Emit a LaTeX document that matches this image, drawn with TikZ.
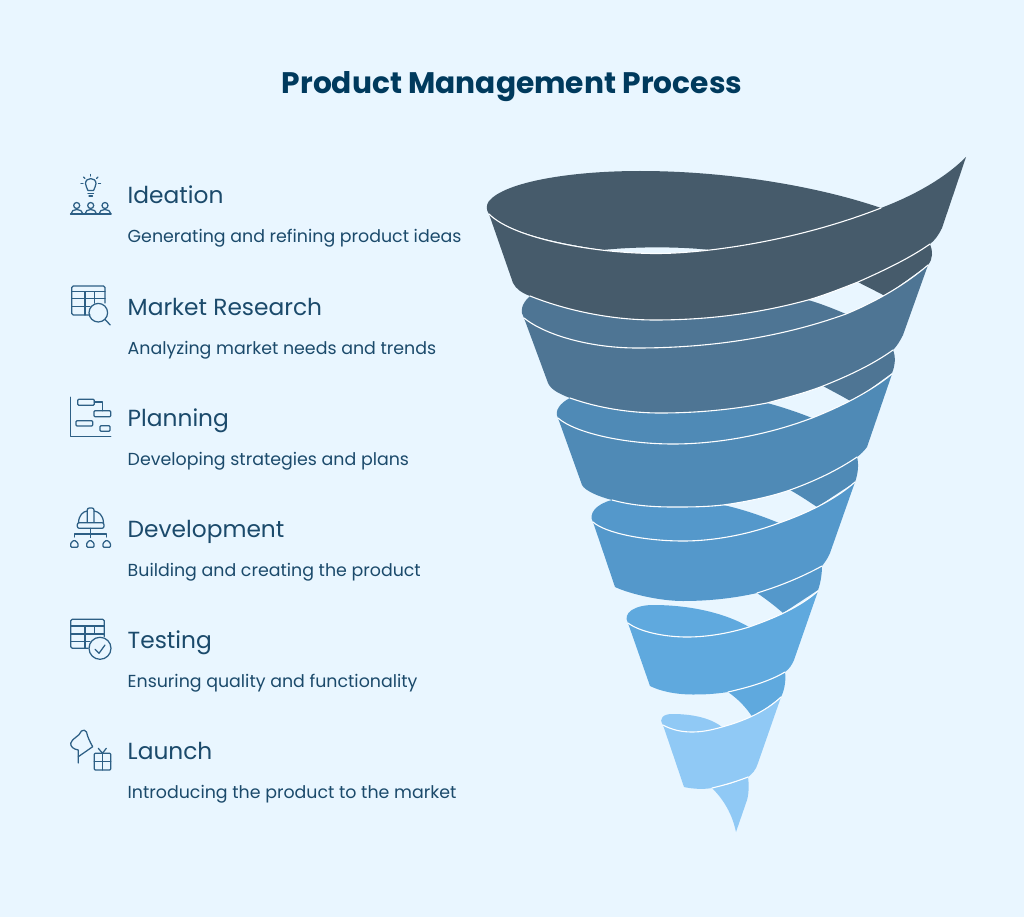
\documentclass[tikz,border=0pt]{standalone}
\usepackage{fontspec}
\setmainfont{Poppins}
\definecolor{pagebg}{HTML}{E9F6FF}
\definecolor{titleink}{HTML}{003A5D}
\definecolor{labelink}{HTML}{1B4A6B}
\definecolor{iconink}{HTML}{2D5F85}
\definecolor{bandA}{HTML}{465B6B}
\definecolor{bandB}{HTML}{4E7594}
\definecolor{bandC}{HTML}{4F8AB6}
\definecolor{bandD}{HTML}{5498CB}
\definecolor{bandE}{HTML}{5FA9DE}
\definecolor{bandF}{HTML}{90C9F5}
\tikzset{
	seam/.style={color=white!92!pagebg, line width=1.1pt, line cap=round},
	icon/.style={color=iconink, line width=1.25pt, line cap=round, line join=round},
	steptitle/.style={anchor=base west, inner sep=0pt, text=labelink, font=\fontsize{23.3}{26}\selectfont},
	stepnote/.style={anchor=base west, inner sep=0pt, text=labelink, font=\fontsize{17.4}{20}\selectfont}
}
\begin{document}
\begin{tikzpicture}[x=1pt, y=-1pt]
		%%%%% START %%%%%
		\fill[pagebg] (0, 0) rectangle (1024, 917);
		\node[anchor=base, inner sep=0pt, text=titleink, font=\bfseries\fontsize{29.7}{32}\selectfont] (title) at (512, 94) {Product Management Process};
		
		\node[steptitle] (ideation) at (127.5, 204) {Ideation};
		\node[stepnote] (ideationnote) at (127.5, 243) {Generating and refining product ideas};
		\node[steptitle] (research) at (127.5, 315) {Market Research};
		\node[stepnote] (researchnote) at (127.5, 354) {Analyzing market needs and trends};
		\node[steptitle] (planning) at (127.5, 426) {Planning};
		\node[stepnote] (planningnote) at (127.5, 465) {Developing strategies and plans};
		\node[steptitle] (development) at (127.5, 537) {Development};
		\node[stepnote] (developmentnote) at (127.5, 576) {Building and creating the product};
		\node[steptitle] (testing) at (127.5, 648) {Testing};
		\node[stepnote] (testingnote) at (127.5, 687) {Ensuring quality and functionality};
		\node[steptitle] (launch) at (127.5, 759) {Launch};
		\node[stepnote] (launchnote) at (127.5, 798) {Introducing the product to the market};
		
		% lobes and tails
		\fill[bandA] (489, 214) .. controls (486, 210) and (486, 205) .. (489, 201) .. controls (505, 182) and (570, 171) .. (640, 171) .. controls (730, 171) and (820, 187) .. (881, 208) .. controls (830, 228) and (770, 243) .. (710, 250) .. controls (680, 246.5) and (635, 246.5) .. (603, 250) .. controls (570, 245) and (510, 235) .. cycle;
		\fill[bandA] (930, 244) .. controls (933, 251) and (933, 259) .. (928, 265) -- (885, 296) .. controls (876, 291) and (867, 287) .. (858, 282) -- (900, 255) -- cycle;
		
		\fill[bandB] (524, 318) .. controls (520, 312) and (521, 304) .. (530, 296) -- (640, 310) -- (808, 300) .. controls (822, 304) and (834, 309) .. (846, 314) -- (846, 360) -- (550, 360) -- cycle;
		\fill[bandB] (893, 350) .. controls (896, 357) and (895, 366) .. (892, 373) -- (852, 402) .. controls (842, 396) and (832, 391) .. (823, 386) -- (860, 365) -- cycle;
		
		\fill[bandC] (558, 418) .. controls (554, 411) and (560, 403) .. (570, 398) -- (660, 405) -- (767, 403) .. controls (782, 407) and (797, 412) .. (812, 418) -- (812, 455) -- (590, 455) -- cycle;
		\fill[bandC] (857, 457) .. controls (859, 464) and (858, 474) .. (855, 482) -- (817, 507) .. controls (808, 501) and (799, 495) .. (790, 490) -- (825, 472) -- cycle;
		
		\fill[bandD] (593, 522) .. controls (588, 514) and (596, 504) .. (612, 500) -- (660, 495) -- (723, 505) .. controls (742, 509) and (762, 516) .. (779, 523) -- (779, 550) -- (610, 550) -- cycle;
		\fill[bandD] (822, 566) .. controls (822, 572) and (821, 582) .. (818, 590) -- (783, 613) .. controls (775, 606) and (766, 599) .. (757, 593) -- (790, 580) -- cycle;
		
		\fill[bandE] (628, 623) .. controls (622, 613) and (635, 605) .. (653, 605) .. controls (690, 605) and (725, 613) .. (749, 627) -- (749, 645) -- (645, 645) -- cycle;
		\fill[bandE] (785, 672) .. controls (786, 679) and (785, 689) .. (781, 697) -- (753, 718) .. controls (746, 707) and (738, 699) .. (728, 692) -- (755, 683) -- cycle;
		
		\fill[bandF] (663, 725) .. controls (658, 718) and (664, 714) .. (672, 714) .. controls (695, 714) and (712, 719) .. (722, 727) -- (722, 740) -- (670, 740) -- cycle;
		\fill[bandF] (748, 777) .. controls (749, 784) and (749, 793) .. (747, 800) -- (736, 832) .. controls (732, 813) and (723, 799) .. (712, 788) -- (730, 784) -- cycle;
		
		% fronts
		\fill[bandA] (489, 214) .. controls (515, 240) and (600, 253.5) .. (656, 253.5) .. controls (675, 253.5) and (692, 252) .. (710, 250) .. controls (770, 243) and (830, 228) .. (881, 208) .. controls (915, 195) and (945, 178) .. (966, 157) -- (942, 228) .. controls (938, 236) and (935, 240) .. (930, 244) .. controls (910, 258) and (885, 270) .. (858, 282) .. controls (840, 289) and (825, 295) .. (808, 300) .. controls (760, 313) and (710, 320) .. (655, 320) .. controls (610, 320) and (565, 310) .. (530, 296) .. controls (522, 293) and (516, 289) .. (513, 283) -- cycle;
		\draw[seam] (489, 214) .. controls (515, 240) and (600, 253.5) .. (656, 253.5) .. controls (675, 253.5) and (692, 252) .. (710, 250) .. controls (770, 243) and (830, 228) .. (881, 208);
		\draw[seam] (930, 244) .. controls (910, 258) and (885, 270) .. (858, 282) .. controls (840, 289) and (825, 295) .. (808, 300) .. controls (760, 313) and (710, 320) .. (655, 320) .. controls (610, 320) and (565, 310) .. (530, 296);
		
		\fill[bandB] (524, 318) .. controls (545, 335) and (590, 348) .. (637, 348) .. controls (715, 348) and (785, 336) .. (846, 314) .. controls (875, 302) and (905, 285) .. (928, 265) -- (903, 335) .. controls (900, 341) and (897, 346) .. (893, 350) .. controls (872, 365) and (848, 376) .. (823, 386) .. controls (805, 393) and (785, 398) .. (767, 403) .. controls (730, 410) and (695, 413) .. (660, 413) .. controls (630, 413) and (598, 408) .. (570, 398) .. controls (560, 394) and (551, 390) .. (548, 383) -- cycle;
		\draw[seam] (524, 318) .. controls (545, 335) and (590, 348) .. (637, 348) .. controls (715, 348) and (785, 336) .. (846, 314) .. controls (875, 302) and (905, 285) .. (928, 265);
		\draw[seam] (893, 350) .. controls (872, 365) and (848, 376) .. (823, 386) .. controls (805, 393) and (785, 398) .. (767, 403) .. controls (730, 410) and (695, 413) .. (660, 413) .. controls (630, 413) and (598, 408) .. (570, 398);
		
		\fill[bandC] (558, 418) .. controls (575, 433) and (625, 444) .. (673, 444) .. controls (720, 444) and (770, 434) .. (812, 418) .. controls (840, 407) and (870, 392) .. (892, 374) -- (867, 447) .. controls (864, 451) and (861, 454) .. (857, 457) .. controls (838, 470) and (815, 481) .. (790, 490) .. controls (770, 497) and (745, 502) .. (723, 505) .. controls (705, 507) and (690, 507) .. (673, 507) .. controls (650, 507) and (630, 505) .. (612, 500) .. controls (600, 497) and (585, 491) .. (582, 485) -- cycle;
		\draw[seam] (558, 418) .. controls (575, 433) and (625, 444) .. (673, 444) .. controls (720, 444) and (770, 434) .. (812, 418) .. controls (840, 407) and (870, 392) .. (892, 374);
		\draw[seam] (857, 457) .. controls (838, 470) and (815, 481) .. (790, 490) .. controls (770, 497) and (745, 502) .. (723, 505) .. controls (705, 507) and (690, 507) .. (673, 507) .. controls (650, 507) and (630, 505) .. (612, 500);
		
		\fill[bandD] (593, 522) .. controls (605, 533) and (645, 541) .. (683, 541) .. controls (715, 541) and (750, 534) .. (779, 523) .. controls (805, 514) and (835, 500) .. (855, 482) -- (830, 553) .. controls (828, 558) and (825, 562) .. (822, 566) .. controls (802, 577) and (780, 586) .. (757, 593) .. controls (735, 598) and (710, 601) .. (683, 601) .. controls (660, 601) and (630, 594) .. (615, 587) -- cycle;
		\draw[seam] (593, 522) .. controls (605, 533) and (645, 541) .. (683, 541) .. controls (715, 541) and (750, 534) .. (779, 523) .. controls (805, 514) and (835, 500) .. (855, 482);
		\draw[seam] (822, 566) .. controls (802, 577) and (780, 586) .. (757, 593);
		
		\fill[bandE] (628, 623) .. controls (640, 632) and (665, 637) .. (687, 637) .. controls (708, 637) and (730, 633) .. (749, 627) .. controls (775, 618) and (800, 607) .. (818, 591) -- (794, 660) .. controls (792, 665) and (789, 669) .. (785, 672) .. controls (770, 681) and (750, 687) .. (728, 692) .. controls (715, 694) and (705, 694.5) .. (693, 694.5) .. controls (675, 694.5) and (660, 691) .. (650, 686) -- cycle;
		\draw[seam] (628, 623) .. controls (640, 632) and (665, 637) .. (687, 637) .. controls (708, 637) and (730, 633) .. (749, 627) .. controls (775, 618) and (800, 607) .. (818, 591);
		\draw[seam] (785, 672) .. controls (770, 681) and (750, 687) .. (728, 692);
		
		\fill[bandF] (663, 725) .. controls (672, 730) and (682, 732) .. (692, 732) .. controls (702, 732) and (712, 730) .. (722, 727) .. controls (744, 721) and (765, 712) .. (781, 697) -- (758, 763) .. controls (756, 770) and (752, 774) .. (748, 777) .. controls (738, 781) and (725, 785) .. (712, 788) .. controls (703, 789.5) and (693, 789) .. (684, 787) -- cycle;
		\draw[seam] (663, 725) .. controls (672, 730) and (682, 732) .. (692, 732) .. controls (702, 732) and (712, 730) .. (722, 727) .. controls (744, 721) and (765, 712) .. (781, 697);
		\draw[seam] (748, 777) .. controls (738, 781) and (725, 785) .. (712, 788);
		
		% ideation icon
		\draw[icon] (88, 190.5) .. controls (87.5, 188) and (85.5, 187) .. (85.5, 183.5) .. controls (85.5, 177) and (96, 177) .. (96, 183.5) .. controls (96, 187) and (94, 188) .. (93.5, 190.5) -- cycle;
		\draw[icon] (88, 193.5) -- (93.5, 193.5);
		\draw[icon] (89, 196) -- (92.5, 196);
		\draw[icon] (90.7, 174.5) -- (90.7, 176);
		\draw[icon] (81, 183.3) -- (83, 183.3);
		\draw[icon] (98.5, 183.3) -- (100.5, 183.3);
		\draw[icon] (83.5, 177) -- (85, 178.5);
		\draw[icon] (98, 177) -- (96.5, 178.5);
		\draw[icon] (70.5, 214) -- (111, 214);
		\draw[icon] (76.7, 205.5) circle (3);
		\draw[icon] (90.7, 205.5) circle (3);
		\draw[icon] (105, 205.5) circle (3);
		\draw[icon] (71, 214) .. controls (71, 208) and (82.5, 208) .. (83, 214);
		\draw[icon] (85, 214) .. controls (85, 208) and (96.5, 208) .. (96.5, 214);
		\draw[icon] (99, 214) .. controls (99, 208) and (110.5, 208) .. (111, 214);
		
		% research icon
		\draw[icon, rounded corners=1.5pt] (90, 315) -- (71.7, 315) -- (71.7, 286) -- (105, 286) -- (105, 303);
		\draw[icon] (71.7, 291.7) -- (105, 291.7);
		\draw[icon] (71.7, 298.3) -- (105, 298.3);
		\draw[icon] (71.7, 306.7) -- (90, 306.7);
		\draw[icon] (85, 291.7) -- (85, 315);
		\draw[icon] (94.3, 291.7) -- (94.3, 303);
		\draw[icon] (98.3, 312.7) circle (9.3);
		\draw[icon] (105, 319.5) -- (110.3, 325);
		
		% planning icon
		\draw[icon] (70.7, 397.3) -- (70.7, 436.7) -- (110.7, 436.7);
		\draw[icon, rounded corners=1pt] (77.7, 399.3) rectangle (94.3, 405.3);
		\draw[icon, rounded corners=1pt] (94, 410.7) rectangle (110.7, 416.7);
		\draw[icon, rounded corners=1pt] (76, 420.7) rectangle (92.7, 426);
		\draw[icon, rounded corners=1pt] (100, 425.7) rectangle (110, 431.3);
		\draw[icon] (94.3, 402) -- (102.7, 402) -- (102.7, 410.7);
		
		% development icon
		\draw[icon] (78.5, 522.5) .. controls (79, 515) and (83, 511.5) .. (87.3, 511);
		\draw[icon] (94, 511) .. controls (98.5, 511.5) and (103, 515) .. (103.5, 522.5);
		\draw[icon, rounded corners=2pt] (87.3, 522.5) -- (87.3, 508) -- (94, 508) -- (94, 522.5);
		\draw[icon, rounded corners=2pt] (77.3, 522.7) rectangle (104, 528.3);
		\draw[icon] (90.3, 528.3) -- (90.3, 537.5);
		\draw[icon] (74.3, 537) -- (74.3, 534) -- (106.7, 534) -- (106.7, 537);
		\draw[icon, rounded corners=1pt] (70.7, 547.3) -- (70.7, 543) -- (74.3, 540) -- (78, 543) -- (78, 547.3) -- cycle;
		\draw[icon, rounded corners=1pt] (86.7, 547.3) -- (86.7, 543) -- (90.3, 540) -- (94, 543) -- (94, 547.3) -- cycle;
		\draw[icon, rounded corners=1pt] (103, 547.3) -- (103, 543) -- (106.7, 540) -- (110.4, 543) -- (110.4, 547.3) -- cycle;
		
		% testing icon
		\draw[icon, rounded corners=1.5pt] (88, 648.3) -- (70.7, 648.3) -- (70.7, 619.3) -- (104.3, 619.3) -- (104.3, 636.5);
		\draw[icon] (70.7, 626) -- (104.3, 626);
		\draw[icon] (70.7, 634) -- (104.3, 634);
		\draw[icon] (70.7, 641.7) -- (90, 641.7);
		\draw[icon] (85, 626) -- (85, 648.3);
		\draw[icon] (94.3, 626) -- (94.3, 634);
		\draw[icon] (100, 648.3) circle (11);
		\draw[icon] (95, 649.3) -- (99, 653.3) -- (105, 645);
		
		% launch icon
		\draw[icon] (70.7, 743.3) .. controls (72, 738) and (79, 737) .. (81.5, 731) .. controls (83, 729.5) and (85.5, 730) .. (86.5, 732) .. controls (87.5, 737) and (90, 742) .. (92.7, 746.7) -- (78.3, 756.7);
		\draw[icon] (70.7, 743.3) .. controls (70.5, 746.5) and (73, 749) .. (78.3, 750) -- (78.3, 763);
		\draw[icon, rounded corners=1pt] (94.3, 753.3) rectangle (110.7, 770);
		\draw[icon] (102.5, 753.3) -- (102.5, 770);
		\draw[icon] (94.3, 761.7) -- (110.7, 761.7);
		\draw[icon] (98.3, 748.3) -- (102.5, 753.3) -- (106.3, 748.3);
		%%%%% END %%%%%
	\end{tikzpicture}
\end{document}
